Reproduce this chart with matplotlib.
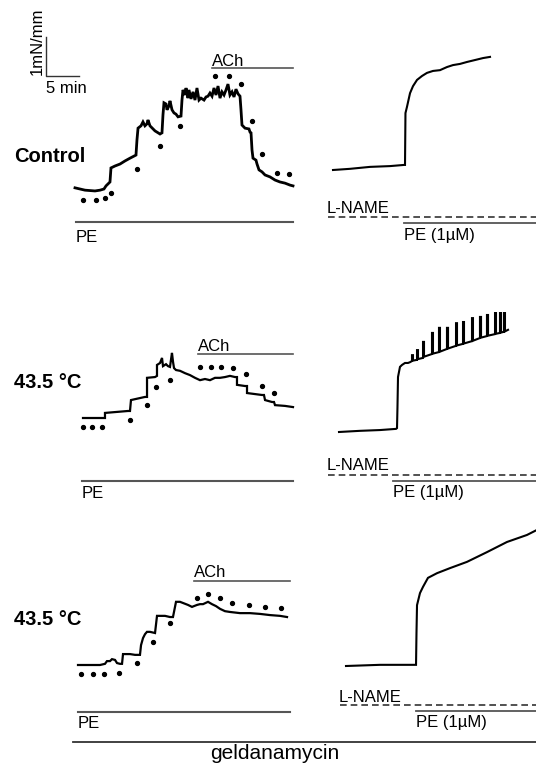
import matplotlib
matplotlib.use("Agg")
import matplotlib.pyplot as plt
from matplotlib.transforms import Affine2D

plt.rcParams["font.family"] = ["Liberation Sans", "DejaVu Sans"]

# scale bar: 5 min and 1 mN/mm
PX_PER_MIN = 33 / 5.0
PX_PER_MN = 39.0

# ---- Control, PE + ACh (time in min, tension in mN/mm above baseline)
ctrl_t = [0.0, 0.76, 1.52, 3.03, 3.79, 4.39, 4.70, 5.0, 5.30, 5.45, 6.06, 6.82, 7.58, 8.33, 9.24,
          9.39, 9.55, 10.0, 10.3, 10.6, 10.9, 11.06, 11.36, 12.12, 12.88, 13.18, 13.33, 13.48, 13.79,
          13.94, 14.24, 14.39, 14.70, 15.0, 15.30, 15.61, 16.06, 16.21, 16.36, 16.67, 16.82, 17.12,
          17.27, 17.58, 17.88, 18.18, 18.48, 18.79, 19.09, 19.55, 19.85, 20.15, 20.45, 20.76, 21.06,
          21.36, 21.67, 21.97, 22.27, 22.58, 22.88, 23.18, 23.48, 23.79, 24.09, 24.39, 24.70, 25.0,
          25.15, 25.30, 25.76, 26.36, 26.52, 26.67, 26.82, 26.97, 27.42, 27.58, 27.88, 28.33, 28.79,
          29.55, 30.30, 31.06, 31.82, 32.58, 33.03]
ctrl_v = [0.03, 0.0, -0.03, -0.05, -0.03, 0.0, 0.08, 0.13, 0.18, 0.54, 0.59, 0.64, 0.72, 0.79, 0.87,
          1.26, 1.56, 1.62, 1.72, 1.62, 1.67, 1.77, 1.62, 1.49, 1.41, 1.44, 1.90, 2.21, 2.18,
          2.03, 2.13, 2.26, 2.03, 1.95, 1.92, 1.85, 1.87, 2.28, 2.54, 2.41, 2.59, 2.33,
          2.54, 2.31, 2.49, 2.28, 2.59, 2.28, 2.33, 2.28, 2.36, 2.38, 2.46, 2.38, 2.59,
          2.41, 2.64, 2.33, 2.49, 2.41, 2.54, 2.69, 2.41, 2.49, 2.36, 2.56, 2.44, 2.38,
          2.03, 1.64, 1.56, 1.54, 1.46, 1.44, 1.0, 0.79, 0.74, 0.64, 0.49, 0.44, 0.36,
          0.31, 0.23, 0.18, 0.15, 0.10, 0.08]
ctrl_dot_t = [1.21, 3.18, 4.55, 5.45, 9.39, 12.88, 15.91, 21.21, 23.33, 25.15, 26.82, 28.33, 30.61, 32.42]
ctrl_dot_v = [-0.28, -0.28, -0.23, -0.10, 0.51, 1.10, 1.62, 2.90, 2.90, 2.69, 1.74, 0.90, 0.41, 0.38]

# ---- Control, L-NAME + PE 1 uM
ctrl_ln_t = [0, 2.58, 5.61, 8.64, 10.76, 10.91, 10.98, 11.21, 11.67, 12.12, 12.73, 13.48, 14.24,
             15.15, 16.21, 17.27, 18.18, 19.24, 20.30, 21.52, 22.73, 23.79]
ctrl_ln_v = [0, 0.03, 0.08, 0.10, 0.13, 0.13, 1.46, 1.62, 1.97, 2.15, 2.31, 2.41, 2.49,
             2.54, 2.56, 2.64, 2.69, 2.72, 2.77, 2.82, 2.87, 2.90]

# ---- 43.5 C, PE + ACh
heat_t = [0, 3.33, 3.33, 6.82, 7.12, 7.27, 9.39, 9.70, 9.70, 10.91, 11.21, 11.21, 11.67, 11.97,
          12.12, 12.58, 12.88, 13.18, 13.33, 13.48, 13.64, 13.79, 14.09, 14.70, 15.45, 16.21, 16.97,
          17.73, 18.48, 19.24, 20.0, 20.76, 21.52, 22.27, 23.03, 23.33, 23.33, 24.55, 24.85, 24.85,
          27.12, 27.42, 27.58, 28.64, 28.94, 29.09, 30.61, 31.82]
heat_v = [0, 0, 0.13, 0.18, 0.18, 0.46, 0.54, 0.54, 1.03, 1.05, 1.08, 1.36, 1.41, 1.54,
          1.33, 1.38, 1.33, 1.31, 1.49, 1.67, 1.44, 1.28, 1.23, 1.21, 1.15, 1.10, 1.03,
          0.97, 1.0, 0.97, 1.03, 1.03, 1.05, 1.08, 1.05, 1.05, 0.85, 0.82, 0.82, 0.64,
          0.59, 0.59, 0.46, 0.41, 0.41, 0.33, 0.31, 0.28]
heat_dot_t = [0, 1.36, 2.88, 7.12, 9.70, 11.06, 13.18, 17.73, 19.39, 20.91, 22.73, 24.70, 27.12, 28.94]
heat_dot_v = [-0.23, -0.23, -0.23, -0.05, 0.33, 0.79, 0.97, 1.31, 1.31, 1.31, 1.28, 1.13, 0.82, 0.64]

# ---- 43.5 C, L-NAME + PE 1 uM (rhythmic spikes)
heat_ln_t = [0, 3.18, 6.21, 8.64, 8.79, 8.86, 8.94, 9.24, 9.55, 10.0, 10.45, 10.76,
             11.06, 11.06, 11.21, 11.21, 11.82, 11.82, 11.97, 11.97, 12.73, 12.73, 12.88, 12.88,
             14.09, 14.09, 14.24, 14.24, 15.15, 15.15, 15.30, 15.30, 16.36, 16.36, 16.52, 16.52,
             17.73, 17.73, 17.88, 17.88, 18.79, 18.79, 18.94, 18.94, 20.15, 20.15, 20.30, 20.30,
             21.36, 21.36, 21.52, 21.52, 22.42, 22.42, 22.58, 22.58, 23.64, 23.64, 23.79, 23.79,
             24.39, 24.39, 24.55, 24.55, 25.0, 25.0, 25.15, 25.15, 25.61]
heat_ln_v = [0, 0.03, 0.05, 0.08, 0.10, 0.64, 1.41, 1.67, 1.72, 1.77, 1.77, 1.79,
             1.82, 1.97, 1.97, 1.83, 1.85, 2.10, 2.10, 1.87, 1.90, 2.31, 2.31, 1.93,
             2.0, 2.54, 2.54, 2.01, 2.05, 2.67, 2.67, 2.06, 2.13, 2.67, 2.67, 2.14,
             2.21, 2.79, 2.79, 2.22, 2.26, 2.82, 2.82, 2.27, 2.33, 2.92, 2.92, 2.34,
             2.41, 2.95, 2.95, 2.42, 2.46, 3.0, 3.0, 2.47, 2.51, 3.05, 3.05, 2.52,
             2.54, 3.05, 3.05, 2.55, 2.57, 3.05, 3.05, 2.58, 2.62]

# ---- 43.5 C + geldanamycin, PE + ACh
geld_t = [0, 1.82, 3.33, 4.09, 4.39, 4.85, 5.15, 5.61, 5.91, 6.36, 6.67, 6.82, 7.88, 8.64, 9.39,
          9.55, 9.85, 10.15, 10.45, 10.91, 11.67, 11.97, 13.18, 13.94, 14.39, 14.85, 15.45, 15.91,
          16.67, 17.27, 18.03, 18.48, 18.94, 19.70, 20.30, 20.91, 21.52, 22.27, 23.03, 24.55,
          26.06, 27.58, 29.09, 30.61, 31.67]
geld_v = [0, 0, 0, 0.03, 0.10, 0.10, 0.15, 0.13, 0.05, 0.03, 0.03, 0.28, 0.28, 0.26, 0.26,
          0.51, 0.69, 0.79, 0.85, 0.85, 0.82, 1.26, 1.26, 1.23, 1.23, 1.62, 1.62, 1.59,
          1.54, 1.49, 1.54, 1.56, 1.56, 1.62, 1.56, 1.51, 1.44, 1.38, 1.36, 1.33,
          1.33, 1.31, 1.28, 1.26, 1.23]
geld_dot_t = [0.45, 2.27, 3.94, 6.21, 8.94, 11.36, 13.94, 18.03, 19.70, 21.52, 23.33, 25.91, 28.33, 30.76]
geld_dot_v = [-0.23, -0.23, -0.23, -0.21, 0.05, 0.59, 1.08, 1.72, 1.82, 1.72, 1.59, 1.54, 1.49, 1.46]

# ---- 43.5 C + geldanamycin, L-NAME + PE 1 uM
geld_ln_t = [0, 5.15, 10.45, 10.61, 10.68, 10.76, 11.21, 11.67, 12.42, 13.79, 15.76, 18.33,
             21.36, 24.39, 27.42, 28.94]
geld_ln_v = [0, 0.03, 0.03, 0.03, 0.85, 1.56, 1.87, 2.03, 2.26, 2.38, 2.51, 2.67,
             2.92, 3.18, 3.36, 3.49]

row_labels = ["Control", "43.5 \u00b0C", "43.5 \u00b0C"]

fig = plt.figure(figsize=(5.36, 7.67), dpi=100)
ax = fig.add_axes([0, 0, 1, 1])
ax.set_xlim(0, 536)
ax.set_ylim(767, 0)
ax.axis("off")

BAR = "#555555"
FS = 12


def panel(x0, y0):
    # min / mN-per-mm -> page position of this trace
    return Affine2D().scale(PX_PER_MIN, -PX_PER_MN).translate(x0, y0) + ax.transData


def pe_ach(tr, t, v, dt, dv, ach, ach_txt, pe, pe_txt, lw=1.6):
    ax.plot(t, v, color="black", lw=lw, transform=tr, solid_joinstyle="miter")
    ax.plot(dt, dv, "o", color="black", ms=2.8, transform=tr)
    ax.plot([ach[0], ach[1]], [ach[2], ach[2]], color=BAR, lw=1.2, transform=tr)
    ax.text(ach[0], ach_txt, "ACh", fontsize=FS, va="baseline", transform=tr)
    ax.plot([pe[0], pe[1]], [pe[2], pe[2]], color=BAR, lw=1.5, transform=tr)
    ax.text(pe[0], pe_txt, "PE", fontsize=FS, va="baseline", transform=tr)


def lname(tr, t, v, ln, ln_txt, pe, pe_txt):
    ax.plot(t, v, color="black", lw=1.5, transform=tr, solid_joinstyle="miter")
    ax.plot([ln[0], ln[1]], [ln[2], ln[2]], color="#333333", lw=1.2,
            linestyle=(0, (4, 2.4)), transform=tr)
    ax.text(ln[0] - 0.15, ln_txt, "L-NAME", fontsize=FS, va="baseline", transform=tr)
    ax.plot([pe[0], pe[1]], [pe[2], pe[2]], color=BAR, lw=1.3, transform=tr)
    ax.text(pe[0], pe_txt, "PE (1\u00b5M)", fontsize=FS, va="baseline", transform=tr)


# row 1
tr = panel(75, 189)
pe_ach(tr, ctrl_t, ctrl_v, ctrl_dot_t, ctrl_dot_v, (20.76, 33.03, 3.10), 3.15,
       (0.15, 33.03, -0.85), -1.36, lw=2.0)
# scale bar
ax.plot([-4.39, -4.39, 0.61], [3.90, 2.90, 2.90], color="#333333", lw=1.0, transform=tr)
ax.text(-5.75, 3.78, "1mN/mm", fontsize=FS, rotation=90, ha="center", va="center", transform=tr)
ax.text(-4.39, 2.46, "5 min", fontsize=FS, va="baseline", transform=tr)

tr = panel(333, 170)
lname(tr, ctrl_ln_t, ctrl_ln_v, (-0.76, 31.0, -1.21), -1.10, (10.76, 31.0, -1.36), -1.80)

# row 2
tr = panel(83, 418)
pe_ach(tr, heat_t, heat_v, heat_dot_t, heat_dot_v, (17.42, 31.82, 1.64), 1.72,
       (-0.15, 31.82, -1.62), -2.05)
tr = panel(339, 432)
lname(tr, heat_ln_t, heat_ln_v, (-1.67, 30.0, -1.10), -0.97, (8.18, 30.0, -1.26), -1.67)

# row 3
tr = panel(78, 665)
pe_ach(tr, geld_t, geld_v, geld_dot_t, geld_dot_v, (17.58, 32.12, 2.15), 2.26,
       (0.0, 32.12, -1.21), -1.62)
tr = panel(346, 666)
lname(tr, geld_ln_t, geld_ln_v, (-0.91, 30.0, -1.0), -0.92, (10.61, 30.0, -1.15), -1.56)

# row labels
for lab, yb in zip(row_labels, [162, 388, 625]):
    ax.text(14, yb, lab, fontsize=14.5, fontweight="bold", va="baseline")

# geldanamycin bar
ax.plot([73, 536], [742, 742], color="#333333", lw=1.3)
ax.text(275, 759, "geldanamycin", fontsize=15, ha="center", va="baseline")

fig.savefig("out.png", dpi=100)
